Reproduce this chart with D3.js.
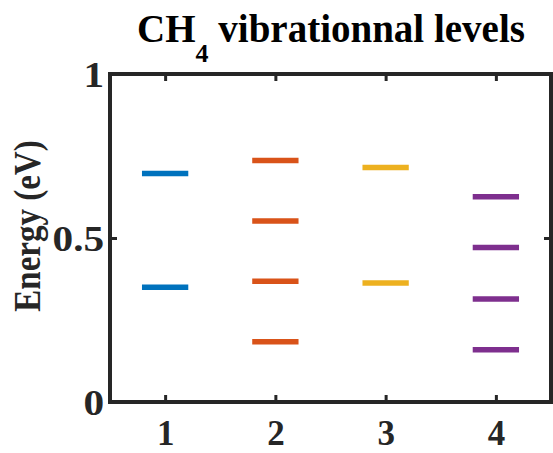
<!DOCTYPE html>
<html><head><meta charset="utf-8">
<script src="https://cdn.jsdelivr.net/npm/d3@7"></script>
<style>body{margin:0;background:#fff}svg{display:block}</style>
</head><body>
<script>
const modes = [1, 2, 3, 4];
const colors = ["#0072BD", "#D95319", "#EDB120", "#7E2F8E"];
const levels1 = [0.350, 0.697];
const levels2 = [0.184, 0.368, 0.552, 0.736];
const levels3 = [0.363, 0.715];
const levels4 = [0.159, 0.314, 0.471, 0.626];
const seriesLevels = [levels1, levels2, levels3, levels4];
const xTicks = [1, 2, 3, 4];
const yTicks = [0, 0.5, 1];
const yTickLabels = ["0", "0.5", "1"];
const halfWidth = 0.21;

const W = 553, H = 453;
const svg = d3.select("body").append("svg").attr("width", W).attr("height", H);
const x = d3.scaleLinear().domain([0.5, 4.5]).range([110, 551]);
const y = d3.scaleLinear().domain([0, 1]).range([402, 74]);
const font = "'Liberation Serif','Times New Roman',serif";
const axCol = "#262626";

// levels
modes.forEach((m, i) => {
  svg.append("g").selectAll("line").data(seriesLevels[i]).join("line")
    .attr("x1", x(m - halfWidth)).attr("x2", x(m + halfWidth))
    .attr("y1", d => y(d)).attr("y2", d => y(d))
    .attr("stroke", colors[i]).attr("stroke-width", 5.5);
});

// axes
const tl = 7;
const gb = svg.append("g").attr("transform", `translate(0,${y(0)})`)
  .call(d3.axisBottom(x).tickValues(xTicks).tickSize(-tl).tickPadding(18).tickFormat(d3.format("d")));
const gt = svg.append("g").attr("transform", `translate(0,${y(1)})`)
  .call(d3.axisTop(x).tickValues(xTicks).tickSize(-tl).tickFormat(""));
const gl = svg.append("g").attr("transform", `translate(${x(0.5)},0)`)
  .call(d3.axisLeft(y).tickValues(yTicks).tickSize(-tl).tickPadding(5).tickFormat((d, i) => yTickLabels[i]));
const gr = svg.append("g").attr("transform", `translate(${x(4.5)},0)`)
  .call(d3.axisRight(y).tickValues(yTicks).tickSize(-tl).tickFormat(""));
[gb, gt, gl, gr].forEach(g => {
  g.select(".domain").remove();
  g.selectAll(".tick line").attr("stroke", axCol).attr("stroke-width", 3);
  g.selectAll("text").attr("fill", axCol).attr("font-family", font)
    .attr("font-weight", "bold").attr("font-size", 35);
});
gb.selectAll("text").attr("dy", "0.71em");
gl.selectAll("text").attr("dy", "0.35em").attr("transform", "scale(1.18,1)");

// box
svg.append("rect").attr("x", x(0.5)).attr("y", y(1))
  .attr("width", x(4.5) - x(0.5)).attr("height", y(0) - y(1))
  .attr("fill", "none").attr("stroke", axCol).attr("stroke-width", 4);

// y label
svg.append("text").attr("transform", `translate(40,226) scale(1.12,1) rotate(-90)`)
  .attr("text-anchor", "middle").attr("font-family", font).attr("font-weight", "bold")
  .attr("font-size", 33).attr("fill", axCol).text("Energy (eV)");

// title
const t = svg.append("text").attr("x", 331).attr("y", 42).attr("text-anchor", "middle")
  .attr("font-family", font).attr("font-weight", "bold").attr("font-size", 39).attr("fill", "#000");
t.append("tspan").text("CH");
t.append("tspan").attr("font-size", 26).attr("dy", 20).text("4");
t.append("tspan").attr("dy", -20).text(" vibrationnal levels");
</script>
</body></html>
